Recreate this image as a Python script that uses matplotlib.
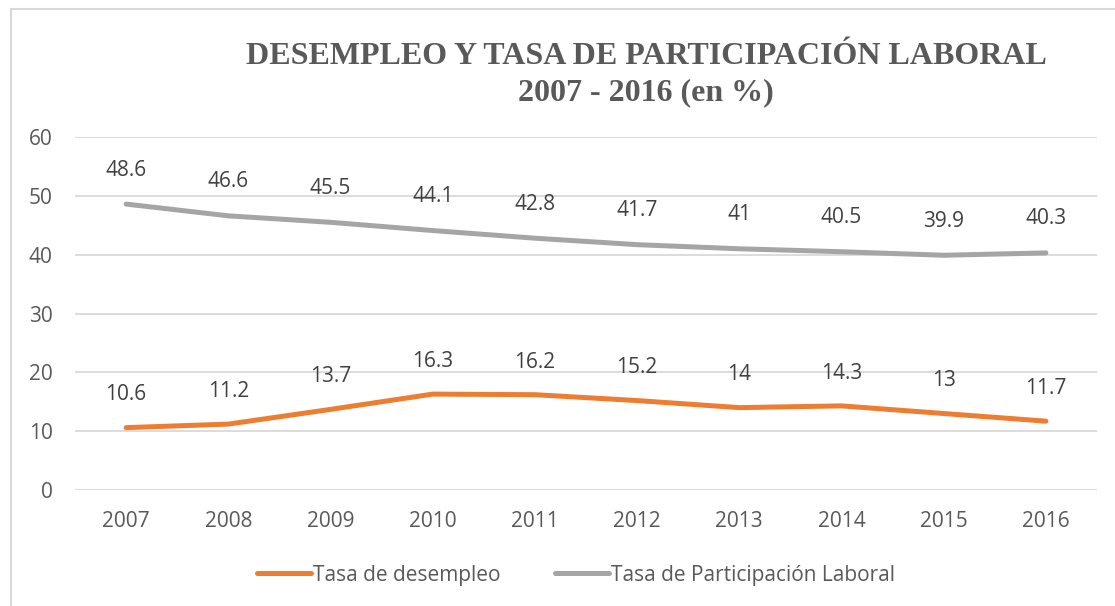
import matplotlib
matplotlib.use("Agg")
import matplotlib.pyplot as plt
from matplotlib.patches import Rectangle

years = ["2007", "2008", "2009", "2010", "2011", "2012", "2013", "2014", "2015", "2016"]
desempleo = [10.6, 11.2, 13.7, 16.3, 16.2, 15.2, 14, 14.3, 13, 11.7]
participacion = [48.6, 46.6, 45.5, 44.1, 42.8, 41.7, 41, 40.5, 39.9, 40.3]
desempleo_labels = ["10.6", "11.2", "13.7", "16.3", "16.2", "15.2", "14", "14.3", "13", "11.7"]
participacion_labels = ["48.6", "46.6", "45.5", "44.1", "42.8", "41.7", "41", "40.5", "39.9", "40.3"]
yticks = [0, 10, 20, 30, 40, 50, 60]

W, H = 1115, 606
fig = plt.figure(figsize=(W / 100, H / 100), dpi=100)
fig.patch.set_facecolor("white")
fig.patches.append(Rectangle((11 / W, -0.05), 1.2, 1 - 9 / H + 0.05, transform=fig.transFigure,
                             fill=False, edgecolor="#D9D9D9", linewidth=1.5))

ax = fig.add_axes([75 / W, 1 - 490 / H, (1097 - 75) / W, (490 - 137) / H])
font = "Open Sans"
x = list(range(len(years)))
orange = "#ED7D31"
gray = "#A5A5A5"

ax.plot(x, desempleo, color=orange, lw=3.6, solid_capstyle="round", label="Tasa de desempleo", zorder=3)
ax.plot(x, participacion, color=gray, lw=3.6, solid_capstyle="round", label="Tasa de Participación Laboral", zorder=3)

for xi, v, t in zip(x, desempleo, desempleo_labels):
    ax.annotate(t, (xi, v), xytext=(0, 23.5), textcoords="offset points", ha="center", va="center",
                fontsize=15, color="#404040", family=font)
for xi, v, t in zip(x, participacion, participacion_labels):
    ax.annotate(t, (xi, v), xytext=(0, 24.5), textcoords="offset points", ha="center", va="center",
                fontsize=15, color="#404040", family=font)

ax.set_xlim(-0.5, len(years) - 0.5)
ax.set_ylim(0, 60)
ax.set_yticks(yticks)
ax.set_xticks(x)
ax.set_xticklabels(years)
ax.grid(axis="y", color="#D9D9D9", lw=1.3)
ax.set_axisbelow(True)
for s in ax.spines.values():
    s.set_visible(False)
ax.tick_params(length=0, labelsize=15, labelcolor="#595959")
ax.tick_params(axis="x", pad=15)
ax.tick_params(axis="y", pad=16)
for lab in ax.get_xticklabels() + ax.get_yticklabels():
    lab.set_family(font)

fig.text(646 / W, 1 - 57 / H, "DESEMPLEO Y TASA DE PARTICIPACIÓN LABORAL", ha="center", va="center",
         fontsize=23, fontweight="bold", color="#595959", family="Liberation Serif")
fig.text(646 / W, 1 - 93 / H, "2007 - 2016 (en %)", ha="center", va="center",
         fontsize=23, fontweight="bold", color="#595959", family="Liberation Serif")

leg = fig.legend(loc="center", bbox_to_anchor=(576 / W, 1 - 575 / H), ncol=2, frameon=False,
                 prop={"family": font, "size": 15}, handlelength=2.6, handletextpad=0.1, columnspacing=2.6)
for t in leg.get_texts():
    t.set_color("#595959")

fig.savefig("out.png", dpi=100, facecolor="white")
